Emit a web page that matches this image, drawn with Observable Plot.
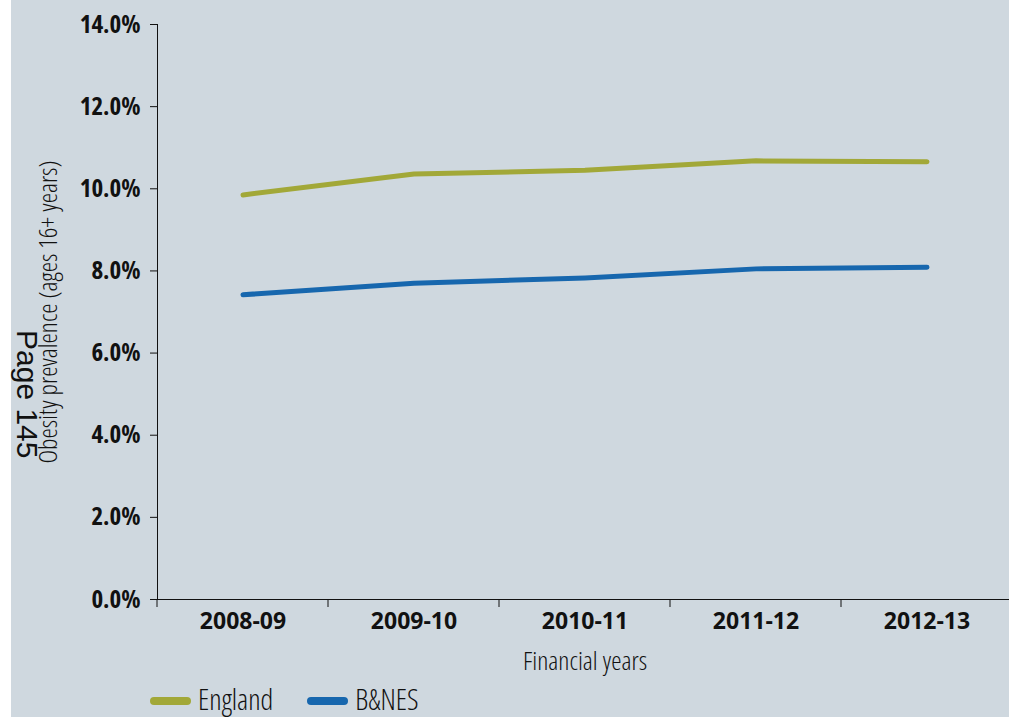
<!DOCTYPE html>
<html><head><meta charset="utf-8">
<script src="https://cdn.jsdelivr.net/npm/d3@7"></script>
<script src="https://cdn.jsdelivr.net/npm/@observablehq/plot@0.6"></script>
<style>
html,body{margin:0;padding:0;width:1009px;height:717px;overflow:hidden;background:#fff;}
#bg{position:absolute;left:11px;top:0;width:998px;height:717px;background:#cfd8df;}
#chart{position:absolute;left:0;top:0;}
#page{position:absolute;left:42px;top:330px;transform-origin:0 0;transform:rotate(90deg);font-family:"Liberation Sans",Arial,sans-serif;font-size:30px;line-height:1;color:#111;white-space:nowrap;}
#legend{position:absolute;left:150px;top:684px;height:29px;display:flex;align-items:center;font-family:"Open Sans",sans-serif;font-stretch:75%;font-weight:300;font-size:29px;line-height:1;color:#111;}
#legend .item{display:flex;align-items:center;margin-right:34px;}
#legend .sw{width:41px;height:8px;border-radius:4px;margin-right:7px;margin-top:4px;}
svg [aria-label="y-axis tick label"]{font-family:"Open Sans",sans-serif;font-stretch:75%;font-weight:700;font-size:25px;}
svg [aria-label="x-axis tick label"]{font-family:"Open Sans",sans-serif;font-stretch:90%;font-weight:700;font-size:23px;}
svg [aria-label="x-axis label"], svg [aria-label="y-axis label"]{font-family:"Open Sans",sans-serif;font-stretch:75%;font-weight:300;font-size:26px;}
</style>
</head><body>
<div id="bg"></div>
<div id="chart"></div>
<div id="page">Page 145</div>
<div id="legend"></div>
<script>
const years = ["2008-09","2009-10","2010-11","2011-12","2012-13"];
const england = [9.85,10.36,10.45,10.68,10.66];
const bnes = [7.42,7.70,7.83,8.05,8.09];
const seriesNames = ["England","B&NES"];
const seriesColors = ["#a2a838","#1767ae"];
const yTicks = [0,2,4,6,8,10,12,14];

const data = years.flatMap((y,i)=>[
  {year:y, series:seriesNames[0], value:england[i]},
  {year:y, series:seriesNames[1], value:bnes[i]}
]);

const plot = Plot.plot({
  width:1009, height:685,
  marginLeft:157, marginRight:-3, marginTop:24, marginBottom:86,
  style:{background:"transparent", color:"#111", overflow:"visible"},
  x:{type:"band", domain:years, padding:0, label:"Financial years", labelArrow:false, labelAnchor:"center", labelOffset:70, tickSize:0, tickPadding:13, line:true},
  y:{domain:[0,14], ticks:yTicks, tickFormat:d=>d.toFixed(1)+"%", tickSize:7, tickPadding:10, label:"Obesity prevalence (ages 16+ years)", labelArrow:false, labelAnchor:"center", labelOffset:119, line:true},
  color:{domain:seriesNames, range:seriesColors},
  marks:[
    Plot.line(data, {x:"year", y:"value", z:"series", stroke:"series", strokeWidth:5, strokeLinecap:"round", strokeLinejoin:"round"})
  ]
});
document.getElementById("chart").appendChild(plot);

// boundary tick marks between categories, positioned by the band scale
const xs = plot.scale("x"), ys = plot.scale("y");
const y0 = ys.apply(0);
d3.select(plot).append("g").attr("stroke","#111")
  .selectAll("line").data(years).join("line")
  .attr("x1", d=>xs.apply(d)).attr("x2", d=>xs.apply(d))
  .attr("y1", y0).attr("y2", y0+8);

const legend = d3.select("#legend");
seriesNames.forEach((n,i)=>{
  const it = legend.append("div").attr("class","item");
  it.append("div").attr("class","sw").style("background", seriesColors[i]);
  it.append("span").text(n);
});
</script>
</body></html>
